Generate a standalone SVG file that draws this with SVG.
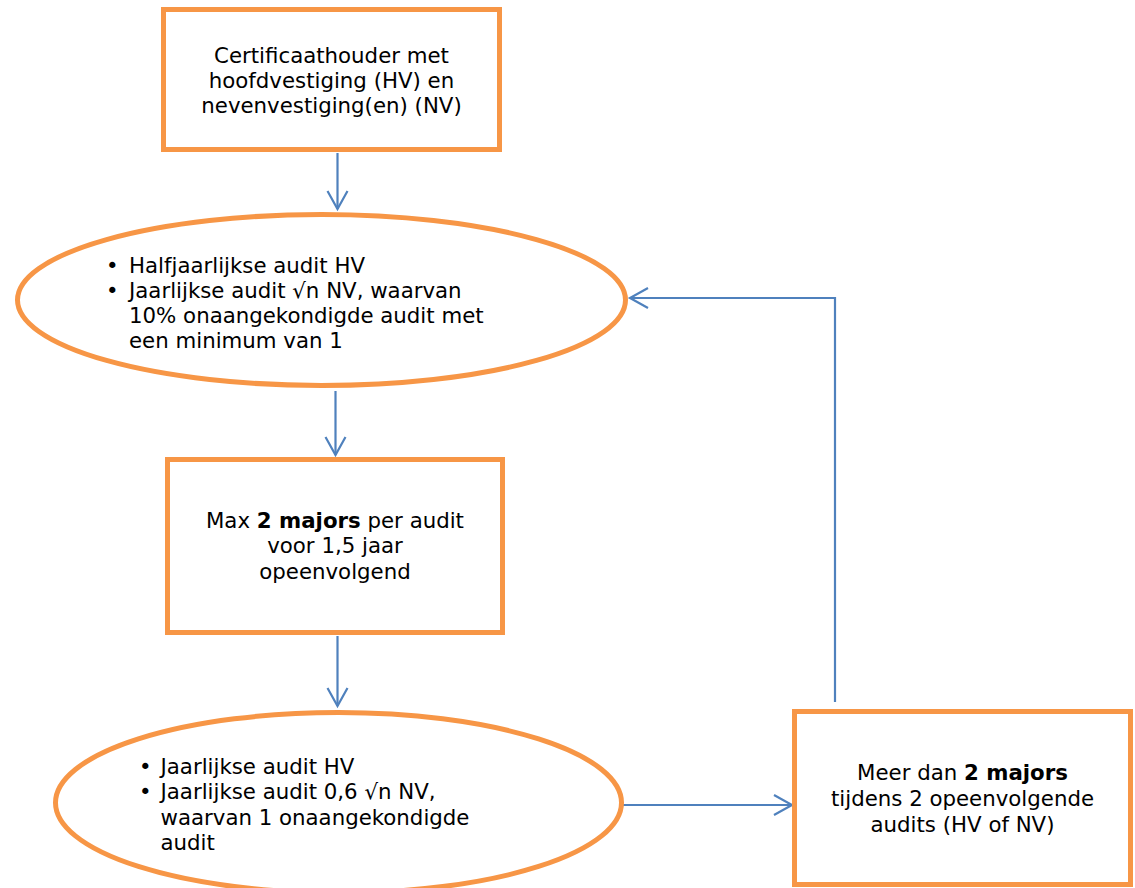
<svg xmlns="http://www.w3.org/2000/svg" width="1135" height="888" viewBox="0 0 1135 888">
<defs>
<style>
.box{fill:#fff;stroke:#F79646;stroke-width:5}
.t{font-family:"DejaVu Sans","Verdana",sans-serif;font-size:21.3px;fill:#000}
.c{text-anchor:middle}
.b{font-weight:bold}
.conn{fill:none;stroke:#4F81BD;stroke-width:2.2}
</style>
<marker id="arr" markerWidth="22" markerHeight="24" refX="19" refY="11" orient="auto" markerUnits="userSpaceOnUse">
<path d="M1,1 L19,11 L1,21" fill="none" stroke="#4F81BD" stroke-width="2.2"/>
</marker>
</defs>
<rect width="1135" height="888" fill="#fff"/>
<g id="connectors">
<line class="conn" x1="337.5" y1="153" x2="337.5" y2="209" marker-end="url(#arr)"/>
<line class="conn" x1="335.5" y1="391" x2="335.5" y2="455" marker-end="url(#arr)"/>
<line class="conn" x1="337.5" y1="636" x2="337.5" y2="706" marker-end="url(#arr)"/>
<line class="conn" x1="623" y1="805" x2="792" y2="805" marker-end="url(#arr)"/>
<polyline class="conn" points="835,702 835,298 630,298" marker-end="url(#arr)"/>
</g>
<g id="node1">
<rect class="box" x="163.5" y="9.5" width="336" height="140"/>
<text class="t c" x="331.5" y="63">Certificaathouder met</text>
<text class="t c" x="331.5" y="88">hoofdvestiging (HV) en</text>
<text class="t c" x="331.5" y="113">nevenvestiging(en) (NV)</text>
</g>
<g id="node2">
<ellipse class="box" cx="321.5" cy="300" rx="304" ry="85.5"/>
<text class="t" x="106" y="273">•</text>
<text class="t" x="129" y="273">Halfjaarlijkse audit HV</text>
<text class="t" x="106" y="298">•</text>
<text class="t" x="129" y="298">Jaarlijkse audit √n NV, waarvan</text>
<text class="t" x="129" y="323">10% onaangekondigde audit met</text>
<text class="t" x="129" y="348">een minimum van 1</text>
</g>
<g id="node3">
<rect class="box" x="167.5" y="459.5" width="335" height="173"/>
<text class="t c" x="335" y="528">Max <tspan class="b">2 majors</tspan> per audit</text>
<text class="t c" x="335" y="553">voor 1,5 jaar</text>
<text class="t c" x="335" y="579">opeenvolgend</text>
</g>
<g id="node4">
<ellipse class="box" cx="338.5" cy="802.7" rx="283" ry="90.2"/>
<text class="t" x="139" y="774">•</text>
<text class="t" x="160.5" y="774">Jaarlijkse audit HV</text>
<text class="t" x="139" y="799">•</text>
<text class="t" x="160.5" y="799">Jaarlijkse audit 0,6 √n NV,</text>
<text class="t" x="160.5" y="825">waarvan 1 onaangekondigde</text>
<text class="t" x="160.5" y="850">audit</text>
</g>
<g id="node5">
<rect class="box" x="794.5" y="711.5" width="336" height="173"/>
<text class="t c" x="962.5" y="780">Meer dan <tspan class="b">2 majors</tspan></text>
<text class="t c" x="962.5" y="806">tijdens 2 opeenvolgende</text>
<text class="t c" x="962.5" y="832">audits (HV of NV)</text>
</g>
</svg>
